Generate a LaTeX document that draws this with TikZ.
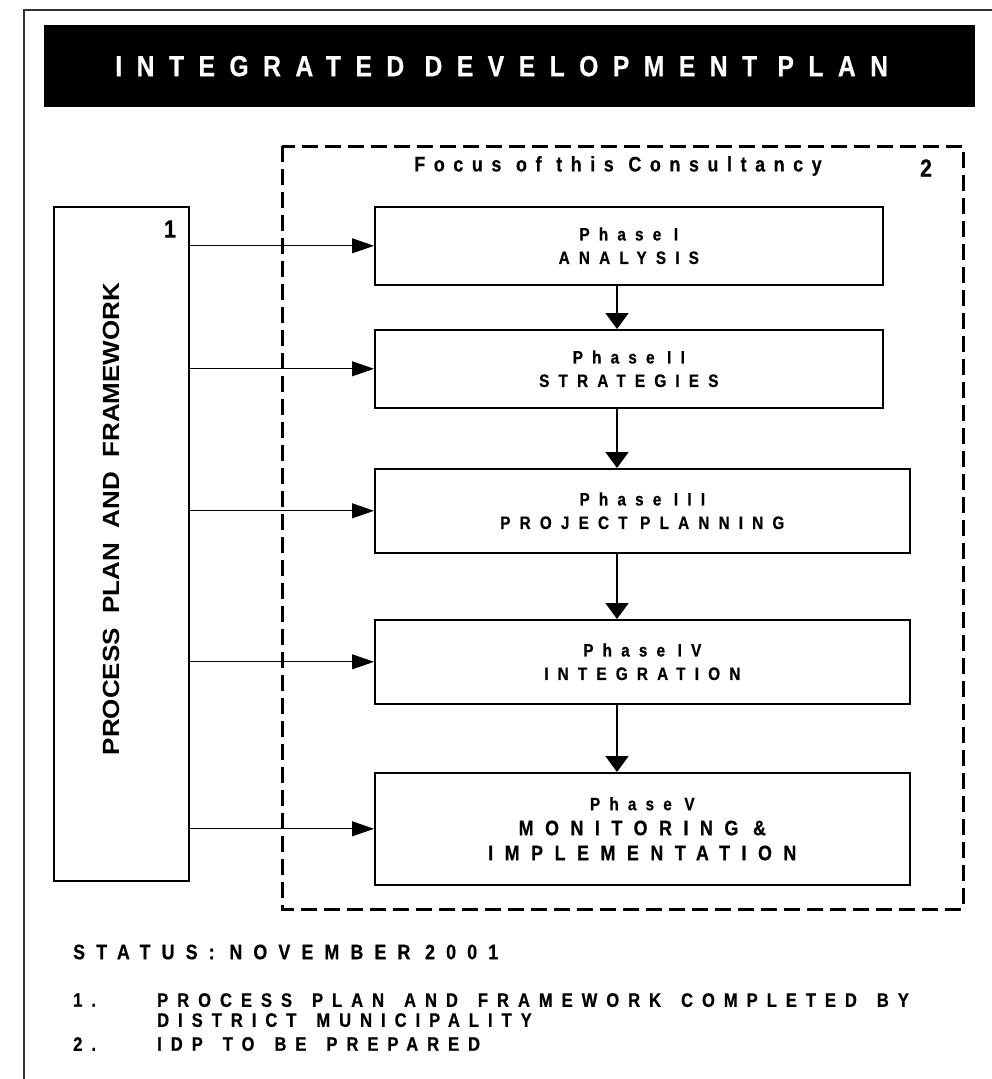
\documentclass[tikz,border=0pt]{standalone}
\usepackage{fontspec}
\setmainfont{Liberation Sans}
\newfontfamily\narrow[FakeStretch=0.85,FakeBold=0.6]{Liberation Sans}
\usetikzlibrary{arrows.meta}
\newcommand{\trk}[3]{\narrow\fontsize{#1}{#2}\selectfont\bfseries\addfontfeature{LetterSpace=#3}\spaceskip=\dimexpr #1pt*7/10\relax}

\begin{document}
\begin{tikzpicture}[x=1pt,y=-1pt,
  phase/.style={draw,line width=1.6pt,anchor=north west,align=center,inner sep=0pt,font={\trk{18}{23.5}{51}}},
  tag/.style={inner sep=0pt,font={\narrow\fontsize{25}{25}\selectfont\bfseries}},
  notes/.style={inner sep=0pt,anchor=west,align=left,font={\trk{19.5}{20}{46}\spaceskip=20pt\relax}},
  hflow/.style={-{Triangle[length=22pt,width=15pt]},line width=1pt},
  vflow/.style={-{Triangle[length=16pt,width=23pt]},line width=1.8pt}]
\useasboundingbox (0,0) rectangle (992,1079);
\draw[line width=1.2pt,black!80] (24,1079) -- (24,10) -- (992,10);
\node[fill=black,anchor=north west,minimum width=931,minimum height=82,inner sep=0pt] (banner) at (44,25) {};
\node[text=white,inner sep=0pt,xshift=-8pt,font={\trk{29}{29}{50}}] (title) at (banner.center) {INTEGRATED DEVELOPMENT PLAN};
\draw[line width=3pt,dash pattern=on 16pt off 7pt] (282,146) rectangle (963,909);
\node[inner sep=0pt,font={\trk{21}{21}{41}}] (focus) at (618,166) {Focus of this Consultancy};
\node[tag] (n2) at (926,168) {2};
\node[draw,line width=1.6pt,anchor=north west,minimum width=135,minimum height=674,inner sep=0pt] (frame1) at (53,206) {};
\node[tag] (n1) at (170,229) {1};
\node[rotate=90,yscale=0.9,inner sep=0pt,font={\fontsize{26}{26}\selectfont\bfseries}] (ppf) at (111,519) {PROCESS\ \ PLAN\ \ AND\ \ FRAMEWORK};
\node[phase,minimum width=508,minimum height=78] (ph1) at (374,206) {Phase I\\ANALYSIS};
\node[phase,minimum width=508,minimum height=78] (ph2) at (374,329) {Phase II\\STRATEGIES};
\node[phase,minimum width=535,minimum height=84] (ph3) at (374,468) {Phase III\\PROJECT PLANNING};
\node[phase,minimum width=535,minimum height=84] (ph4) at (374,619) {Phase IV\\INTEGRATION};
\node[phase,minimum width=535,minimum height=112,font={\trk{21}{25}{55}}] (ph5) at (374,772) {{\trk{18}{25}{51}Phase V}\\MONITORING \&\\IMPLEMENTATION};
\coordinate (spine) at (617,0);
\foreach \p in {ph1,ph2,ph3,ph4,ph5}
  \draw[hflow] (frame1.east |- \p.west) -- (\p.west);
\foreach \a/\b in {ph1/ph2,ph2/ph3,ph3/ph4,ph4/ph5}
  \draw[vflow] (\a.south -| spine) -- (\b.north -| spine);
\node[notes,font={\trk{21}{21}{53}}] (status) at (73,952) {STATUS: NOVEMBER 2001};
\node[notes] (num1) at (73,1000) {1.};
\node[notes,anchor=north west] (item1) at (157,993) {PROCESS PLAN AND FRAMEWORK COMPLETED BY\\DISTRICT MUNICIPALITY};
\node[notes] (num2) at (73,1044) {2.};
\node[notes] (item2) at (157,1044) {IDP TO BE PREPARED};
\end{tikzpicture}
\end{document}
